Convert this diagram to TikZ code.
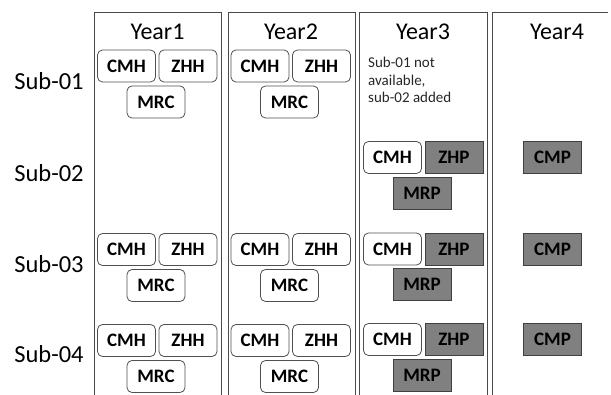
\documentclass[tikz,border=0pt]{standalone}
\usepackage{fontspec}
\setmainfont{Carlito}
\usetikzlibrary{positioning}
\definecolor{colline}{HTML}{4A4A4A}
\definecolor{boxline}{HTML}{505050}
\definecolor{boxgray}{HTML}{808080}
\tikzset{every picture/.style={font issue=\fontsize{18}{20}},
         font issue/.style={execute at begin picture={#1\selectfont}},
         column/.style={draw=colline, line width=0.9pt},
         whitebox/.style={draw=boxline, line width=0.8pt, rounded corners=5pt, fill=white,
                          minimum width=58pt, minimum height=32pt, inner sep=0pt,
                          font=\fontsize{19}{21}\selectfont\bfseries},
         graybox/.style={whitebox, rounded corners=0pt, fill=boxgray, draw=black!75},
         yeartitle/.style={anchor=base, font=\fontsize{24}{26}\selectfont},
         sublabel/.style={anchor=base, font=\fontsize{24.5}{27}\selectfont}
        }
\begin{document}
\begin{tikzpicture}[x=1pt, y=-1pt]
        \useasboundingbox (0,0) rectangle (611,395);
        % year columns, open at the bottom
        \draw [column] (94,395) |- (221,12) -- (221,395);
        \draw [column] (228,395) |- (355,12) -- (355,395);
        \draw [column] (359,395) |- (487,12) -- (487,395);
        \draw [column] (492,395) |- (608,12);
        \node [yeartitle] (year1) at (157.5,40) {Year1};
        \node [yeartitle] (year2) at (291,40) {Year2};
        \node [yeartitle] (year3) at (423,40) {Year3};
        \node [yeartitle] (year4) at (557,40) {Year4};
        \node [sublabel] (sub1) at (49,90) {Sub-01};
        \node [sublabel] (sub2) at (49,182) {Sub-02};
        \node [sublabel] (sub3) at (49,273) {Sub-03};
        \node [sublabel] (sub4) at (49,363) {Sub-04};
        \node [anchor=north west, align=left, inner sep=0pt, font=\fontsize{15}{17.5}\selectfont, text=black!85] (note) at (368,57) {Sub-01 not\\available,\\sub-02 added};
        % year 1 and year 2
        \foreach \r/\yy in {1/66, 3/249.5, 4/340.5} {
          \node [whitebox] (cmha\r) at (126.5,\yy) {CMH};
          \node [whitebox] (zhha\r) at (188,\yy) {ZHH};
          \node [whitebox] (mrca\r) at (156,\yy+36) {MRC};
          \node [whitebox] (cmhb\r) at (260,\yy) {CMH};
          \node [whitebox] (zhhb\r) at (321.5,\yy) {ZHH};
          \node [whitebox] (mrcb\r) at (289.5,\yy+36) {MRC};
        }
        % year 3 and year 4
        \foreach \r/\yy in {2/157.5, 3/249, 4/339.5} {
          \node [whitebox] (cmhc\r) at (392.5,\yy) {CMH};
          \node [graybox] (zhpc\r) at (454,\yy) {ZHP};
          \node [graybox] (mrpc\r) at (422,\yy+35.5) {MRP};
          \node [graybox] (cmpd\r) at (552.5,\yy) {CMP};
        }
      \end{tikzpicture}
\end{document}
